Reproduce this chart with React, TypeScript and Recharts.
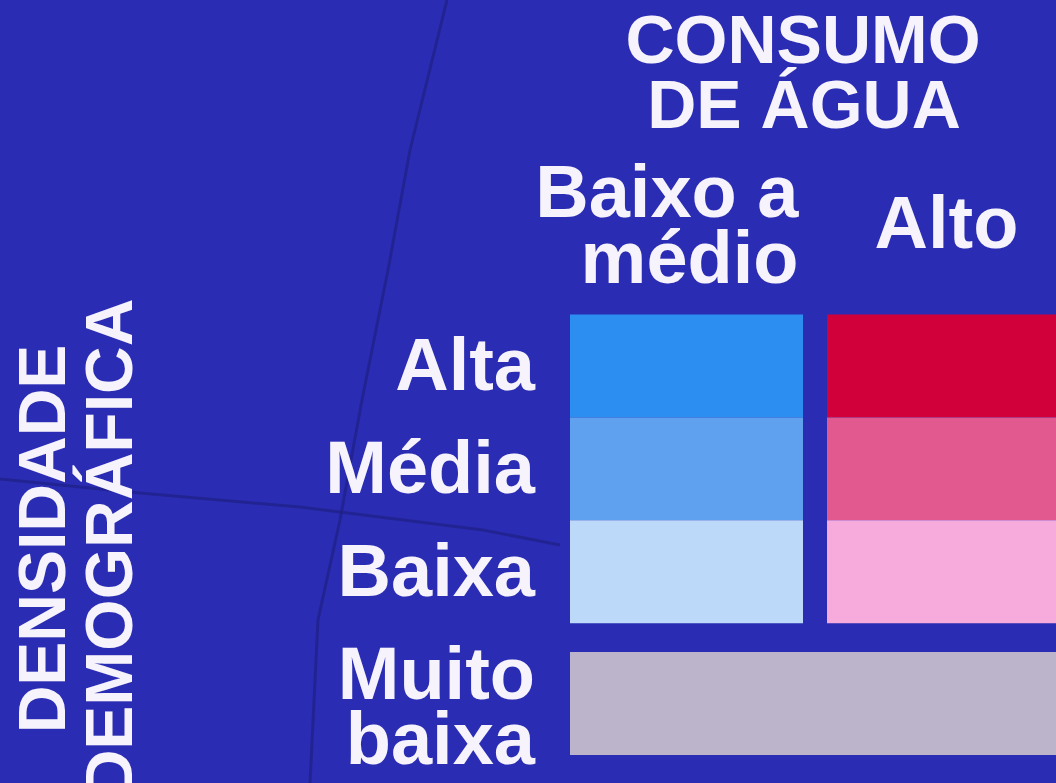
import { ScatterChart, XAxis, YAxis, ReferenceArea, Label } from "recharts";

// Legend of a bivariate map: population density (rows) x water consumption (columns)
const densityRows = ["Alta", "Média", "Baixa"];
const consumptionCols = ["Baixo a médio", "Alto"];
const lowUseColors = ["#2b8ef0", "#5fa1ee", "#bcd9f9"];
const highUseColors = ["#d2003a", "#e1598f", "#f6abdc"];
const veryLowLabel = "Muito baixa";
const veryLowColor = "#bbb4ca";
const titleLines = ["CONSUMO", "DE ÁGUA"];
const axisTitleLines = ["DENSIDADE", "DEMOGRÁFICA"];

const BG = "#2a2db3";
const INK = "#f7f3fc";
const FONT = "'Liberation Sans', Arial, Helvetica, sans-serif";

// layout units: one cell = 1 x 1
const COL_GAP = 0.103;
const ROW_GAP = 0.28;
const xMax = 2 + COL_GAP;
const veryLowTop = densityRows.length + ROW_GAP;
const yMax = veryLowTop + 1;

const colStart = (i: number) => i * (1 + COL_GAP);
const colTicks = consumptionCols.map((_, i) => colStart(i) + 0.5);
const rowTicks = [...densityRows.map((_, i) => i + 0.5), veryLowTop + 0.5];
const rowLabels = [...densityRows, veryLowLabel];

function ColumnTick(props: any) {
  const { x, payload } = props;
  const idx = colTicks.indexOf(payload.value);
  const text = { fill: INK, fontFamily: FONT, fontWeight: 700, fontSize: 74 };
  if (idx === 0) {
    return (
      <text x={x + 112} textAnchor="end" {...text}>
        <tspan x={x + 112} y={217}>Baixo a</tspan>
        <tspan x={x + 112} y={283}>médio</tspan>
      </text>
    );
  }
  return (
    <text x={x + 3} y={248} textAnchor="middle" {...text}>
      {consumptionCols[idx]}
    </text>
  );
}

function RowTick(props: any) {
  const { y, payload } = props;
  const idx = rowTicks.indexOf(payload.value);
  const label = rowLabels[idx];
  const text = { fill: INK, fontFamily: FONT, fontWeight: 700, fontSize: 74 };
  if (label === veryLowLabel) {
    const [a, b] = label.split(" ");
    return (
      <text textAnchor="end" {...text}>
        <tspan x={535} y={y - 5}>{a}</tspan>
        <tspan x={535} y={y + 60}>{b}</tspan>
      </text>
    );
  }
  return (
    <text x={535} y={y + 24} textAnchor="end" {...text}>
      {label}
    </text>
  );
}

function TopTitle() {
  return (
    <text textAnchor="middle" fill={INK} fontFamily={FONT} fontWeight={700} fontSize={68}>
      <tspan x={803} y={63}>{titleLines[0]}</tspan>
      <tspan x={804} y={128}>{titleLines[1]}</tspan>
    </text>
  );
}

function SideTitle() {
  const text = { fill: INK, fontFamily: FONT, fontWeight: 700, fontSize: 66, textAnchor: "middle" as const };
  return (
    <g>
      <text transform="translate(65,539) rotate(-90)" {...text}>{axisTitleLines[0]}</text>
      <text transform="translate(132,548) rotate(-90)" {...text}>{axisTitleLines[1]}</text>
    </g>
  );
}

export default function App() {
  return (
    <div style={{ position: "fixed", left: 0, top: 0, width: 1056, height: 783, overflow: "hidden", background: BG }}>
      {/* faint map borders behind the legend */}
      <svg width={1056} height={783} style={{ position: "absolute", left: 0, top: 0 }}>
        <path d="M447,0 L410,150 L388,270 L362,400 L340,520 L318,620 L310,783" fill="none" stroke="#1f1f86" strokeWidth={3} opacity={0.7} />
        <path d="M0,479 L140,493 L300,507 L483,530 L560,545" fill="none" stroke="#1f1f86" strokeWidth={3} opacity={0.7} />
      </svg>
      <div style={{ position: "absolute", left: 0, top: 0 }}>
        <ScatterChart width={1090} height={783} margin={{ top: 0, right: 30, left: 0, bottom: 28 }}>
          <XAxis
            dataKey="x"
            type="number"
            orientation="top"
            height={314.5}
            domain={[0, xMax]}
            ticks={colTicks}
            axisLine={false}
            tickLine={false}
            interval={0}
            tick={<ColumnTick />}
            allowDataOverflow
          >
            <Label content={<TopTitle />} />
          </XAxis>
          <YAxis
            dataKey="y"
            type="number"
            width={570}
            domain={[0, yMax]}
            reversed
            ticks={rowTicks}
            axisLine={false}
            tickLine={false}
            interval={0}
            tick={<RowTick />}
            allowDataOverflow
          >
            <Label content={<SideTitle />} />
          </YAxis>
          {densityRows.map((row, i) => (
            <ReferenceArea
              key={`low-${row}`}
              x1={colStart(0)}
              x2={colStart(0) + 1}
              y1={i}
              y2={i + 1}
              fill={lowUseColors[i]}
              fillOpacity={1}
              stroke="none"
              ifOverflow="visible"
            />
          ))}
          {densityRows.map((row, i) => (
            <ReferenceArea
              key={`high-${row}`}
              x1={colStart(1)}
              x2={colStart(1) + 1}
              y1={i}
              y2={i + 1}
              fill={highUseColors[i]}
              fillOpacity={1}
              stroke="none"
              ifOverflow="visible"
            />
          ))}
          <ReferenceArea
            x1={0}
            x2={xMax}
            y1={veryLowTop}
            y2={yMax}
            fill={veryLowColor}
            fillOpacity={1}
            stroke="none"
            ifOverflow="visible"
          />
        </ScatterChart>
      </div>
    </div>
  );
}
